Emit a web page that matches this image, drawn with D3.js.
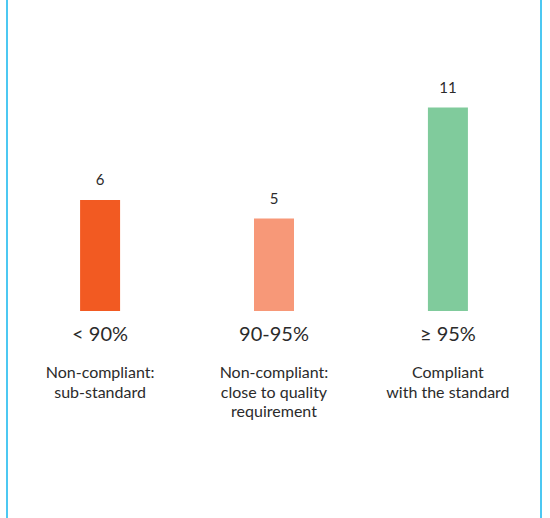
<!DOCTYPE html>
<html>
<head>
<meta charset="utf-8">
<script src="https://cdn.jsdelivr.net/npm/d3@7"></script>
<style>
  html, body { margin: 0; padding: 0; background: #ffffff; }
  svg { display: block; }
  text { font-family: Lato, "Open Sans", sans-serif; fill: #2b2b2b; }
</style>
</head>
<body>
<svg id="chart" width="550" height="518"></svg>
<script>
// Compliance bands and the number of cases in each
const ranges = ["< 90%", "90-95%", "≥ 95%"];
const counts = [6, 5, 11];
const descriptions = [
  ["Non-compliant:", "sub-standard"],
  ["Non-compliant:", "close to quality", "requirement"],
  ["Compliant", "with the standard"]
];
const barColors = ["#F25A22", "#F79878", "#80CB9C"];

const svg = d3.select("#chart");
const W = 550, H = 518;

// Frame: vertical rules on the left and right edges
const frameColor = "#4CC8F2";
svg.append("line")
  .attr("x1", 7).attr("x2", 7).attr("y1", 0).attr("y2", H)
  .attr("stroke", frameColor).attr("stroke-width", 2);
svg.append("line")
  .attr("x1", 541).attr("x2", 541).attr("y1", 0).attr("y2", H)
  .attr("stroke", frameColor).attr("stroke-width", 2);

const x = d3.scaleBand()
  .domain(ranges)
  .range([14, 534])
  .paddingInner(0.77)
  .paddingOuter(0.38);

const baseY = 311;
const y = d3.scaleLinear()
  .domain([0, 12])
  .range([baseY, 89]);

const data = ranges.map((r, i) => ({ range: r, count: counts[i], color: barColors[i], desc: descriptions[i] }));

// Bars
svg.append("g").selectAll("rect")
  .data(data)
  .join("rect")
  .attr("x", d => x(d.range))
  .attr("y", d => y(d.count))
  .attr("width", x.bandwidth())
  .attr("height", d => y(0) - y(d.count))
  .attr("fill", d => d.color);

// Value labels above the bars
svg.append("g").selectAll("text")
  .data(data)
  .join("text")
  .attr("x", d => x(d.range) + x.bandwidth() / 2)
  .attr("y", d => y(d.count) - 15)
  .attr("text-anchor", "middle")
  .attr("font-size", 15)
  .text(d => d.count);

// Range labels under the bars
svg.append("g").selectAll("text")
  .data(data)
  .join("text")
  .attr("x", d => x(d.range) + x.bandwidth() / 2)
  .attr("y", 341)
  .attr("text-anchor", "middle")
  .attr("font-size", 20)
  .text(d => d.range);

// Descriptions, one tspan per line
const desc = svg.append("g").selectAll("text")
  .data(data)
  .join("text")
  .attr("text-anchor", "middle")
  .attr("font-size", 16)
  .attr("y", 378);

desc.selectAll("tspan")
  .data(d => d.desc.map(line => ({ line, cx: x(d.range) + x.bandwidth() / 2 })))
  .join("tspan")
  .attr("x", t => t.cx)
  .attr("dy", (t, i) => i === 0 ? 0 : 19.5)
  .text(t => t.line);
</script>
</body>
</html>
